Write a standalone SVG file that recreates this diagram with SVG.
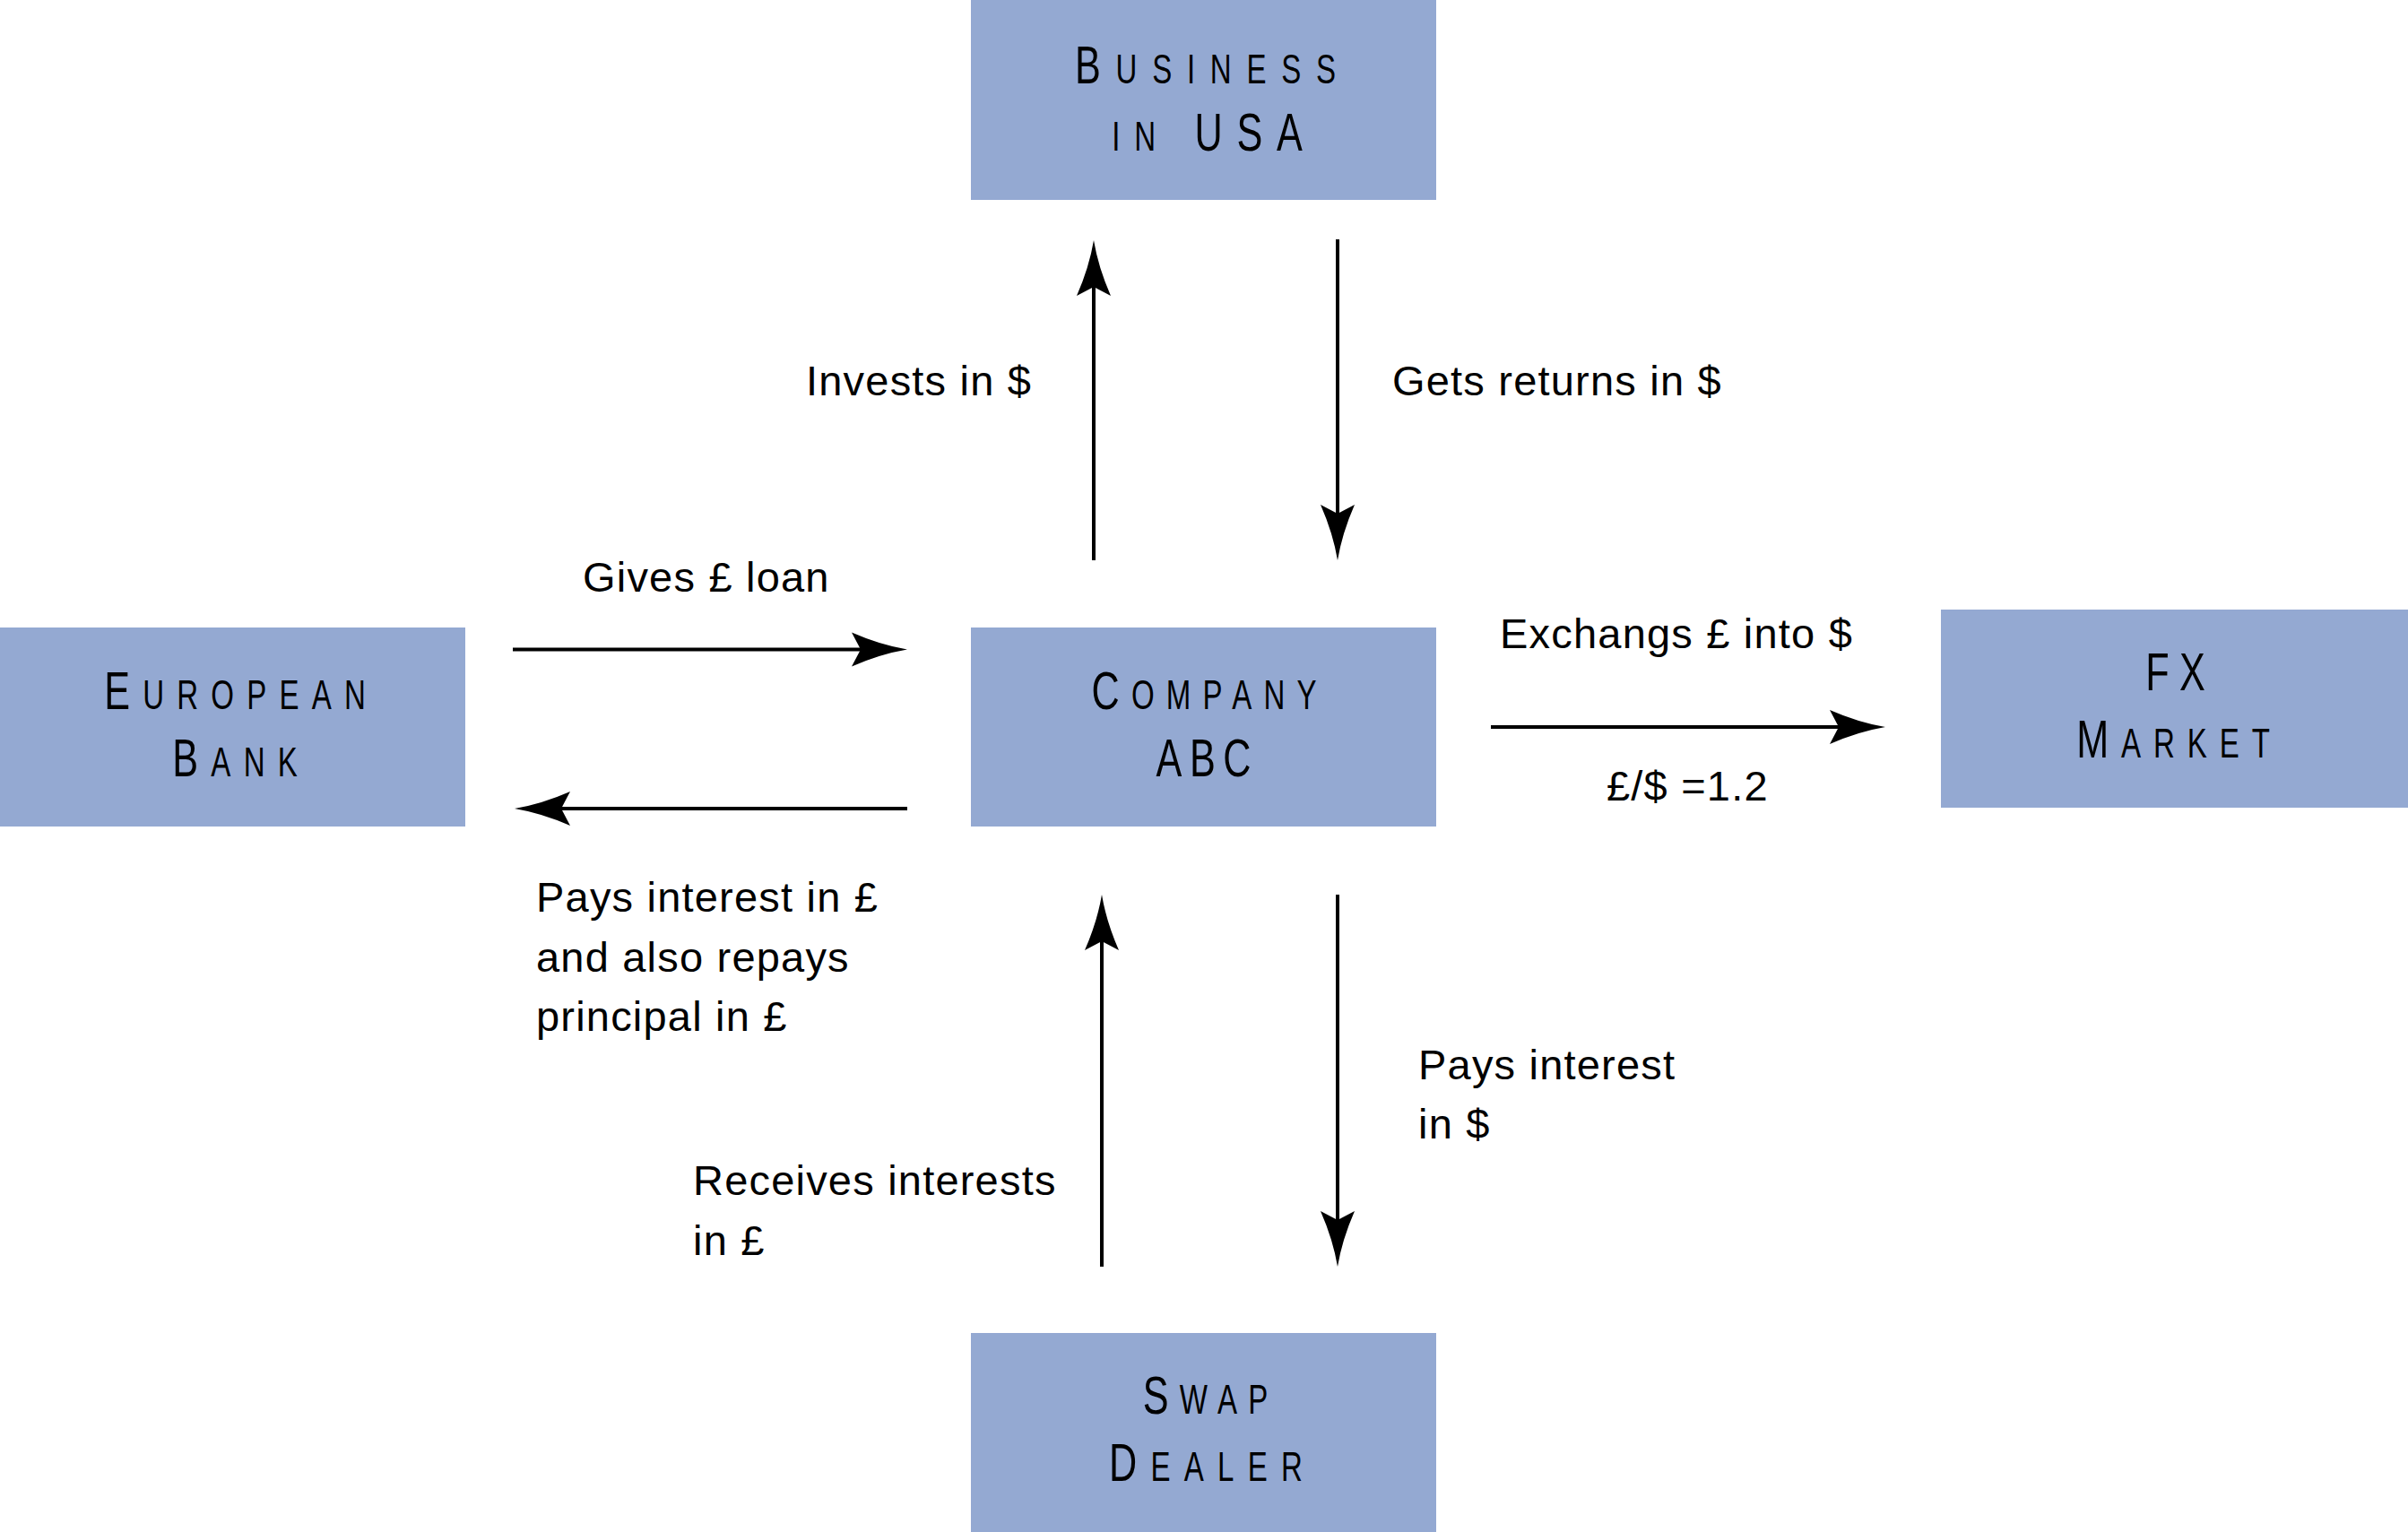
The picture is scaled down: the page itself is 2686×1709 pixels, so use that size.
<svg xmlns="http://www.w3.org/2000/svg" width="2686" height="1709" viewBox="0 0 2686 1709">
  <style>
    .box { fill: #94A9D2; }
    .nl { font-family: "Liberation Sans", Arial, sans-serif; font-size: 60px; font-variant: small-caps; fill: #000; text-anchor: middle; }
    .sc { font-size: 66px; }
    .lbl { font-family: "Liberation Sans", Arial, sans-serif; font-size: 47px; letter-spacing: 1.2px; fill: #000; }
    .conn { stroke: #000; stroke-width: 4; fill: none; marker-end: url(#ah); }
  </style>
  <defs>
    <marker id="ah" markerUnits="userSpaceOnUse" markerWidth="80" markerHeight="50" viewBox="-70 -25 80 50" refX="-52" refY="0" orient="auto" overflow="visible">
      <path d="M0,0 Q-30,-5 -62,-19 L-52,0 L-62,19 Q-30,5 0,0 Z" fill="#000"/>
    </marker>
  </defs>
  <rect width="2686" height="1709" fill="#fff"/>

  <g id="business-usa">
    <rect class="box" x="1083" y="0" width="519" height="223"/>
    <text class="nl" transform="translate(1344.5,93) scale(0.72,1)" x="11.6" letter-spacing="23.2">B<tspan class="sc">usiness</tspan></text>
    <text class="nl" transform="translate(1346.5,168) scale(0.72,1)" x="11" letter-spacing="21.9"><tspan class="sc">in</tspan> USA</text>
  </g>
  <g id="european-bank">
    <rect class="box" x="0" y="700" width="519" height="222"/>
    <text class="nl" transform="translate(262,791) scale(0.72,1)" x="9.8" letter-spacing="19.7">E<tspan class="sc">uropean</tspan></text>
    <text class="nl" transform="translate(262,866) scale(0.72,1)" x="10" letter-spacing="19.9">B<tspan class="sc">ank</tspan></text>
  </g>
  <g id="company-abc">
    <rect class="box" x="1083" y="700" width="519" height="222"/>
    <text class="nl" transform="translate(1343,791) scale(0.72,1)" x="9.2" letter-spacing="18.3">C<tspan class="sc">ompany</tspan></text>
    <text class="nl" transform="translate(1342.5,866) scale(0.72,1)" x="6" letter-spacing="12">ABC</text>
  </g>
  <g id="fx-market">
    <rect class="box" x="2165" y="680" width="521" height="221"/>
    <text class="nl" transform="translate(2426.5,770) scale(0.72,1)" x="8" letter-spacing="16">FX</text>
    <text class="nl" transform="translate(2424,845) scale(0.72,1)" x="9.7" letter-spacing="19.3">M<tspan class="sc">arket</tspan></text>
  </g>
  <g id="swap-dealer">
    <rect class="box" x="1083" y="1487" width="519" height="222"/>
    <text class="nl" transform="translate(1344.5,1577) scale(0.72,1)" x="8.5" letter-spacing="17">S<tspan class="sc">wap</tspan></text>
    <text class="nl" transform="translate(1345,1652) scale(0.72,1)" x="10.6" letter-spacing="21.2">D<tspan class="sc">ealer</tspan></text>
  </g>

  <g id="connectors">
    <line class="conn" x1="572" y1="724.5" x2="960" y2="724.5"/>
    <line class="conn" x1="1012" y1="902" x2="626" y2="902"/>
    <line class="conn" x1="1220" y1="625" x2="1220" y2="320"/>
    <line class="conn" x1="1492" y1="267" x2="1492" y2="573"/>
    <line class="conn" x1="1663" y1="811" x2="2051" y2="811"/>
    <line class="conn" x1="1229" y1="1413" x2="1229" y2="1050"/>
    <line class="conn" x1="1492" y1="998" x2="1492" y2="1361"/>
  </g>

  <g id="labels">
    <text class="lbl" x="899" y="441">Invests in $</text>
    <text class="lbl" x="1553" y="441">Gets returns in $</text>
    <text class="lbl" x="650" y="660">Gives £ loan</text>
    <text class="lbl" x="1673" y="723">Exchangs £ into $</text>
    <text class="lbl" x="1792" y="893">£/$ =1.2</text>
    <text class="lbl" x="598" y="1017">Pays interest in £</text>
    <text class="lbl" x="598" y="1084">and also repays</text>
    <text class="lbl" x="598" y="1150">principal in £</text>
    <text class="lbl" x="1582" y="1204">Pays interest</text>
    <text class="lbl" x="1582" y="1270">in $</text>
    <text class="lbl" x="773" y="1333">Receives interests</text>
    <text class="lbl" x="773" y="1400">in £</text>
  </g>
</svg>
